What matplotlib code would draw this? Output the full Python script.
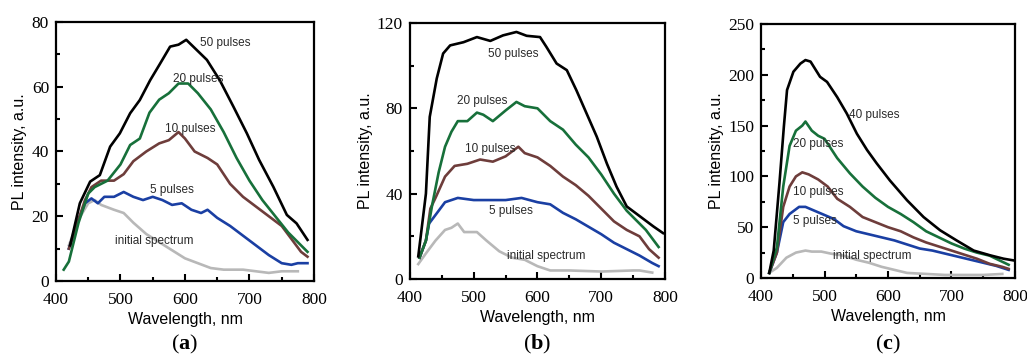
import numpy as np
import matplotlib.pyplot as plt
from matplotlib.ticker import MultipleLocator

plt.rcParams['mathtext.fontset'] = 'custom'
plt.rcParams['mathtext.rm'] = 'Liberation Serif'
plt.rcParams['mathtext.bf'] = 'Liberation Serif:bold'

# ---- panel (a) ----
a_wl_50 = [422, 437, 453, 468, 484, 499, 515, 530, 546, 561, 577, 590, 602, 618, 634, 654, 675, 696, 715, 737, 758, 773, 790]
a_50 = [11, 24, 30.7, 32.7, 41.5, 45.6, 51.8, 55.9, 62, 67, 72.4, 73, 74.5, 71.4, 68.3, 62, 53.9, 45.6, 37.4, 29.1, 20.4, 17.8, 12.7]
a_wl_20 = [412, 420, 435, 450, 460, 480, 500, 515, 530, 545, 560, 575, 590, 605, 620, 640, 660, 680, 700, 720, 740, 760, 775, 790]
a_20 = [3.5, 6, 18, 27, 29, 31, 36, 42, 44, 52, 56, 58, 61, 61, 58, 53, 46, 38, 31, 25, 20, 15, 12, 9]
a_wl_10 = [420, 430, 445, 455, 470, 490, 505, 520, 540, 560, 575, 590, 600, 615, 635, 650, 670, 690, 710, 730, 750, 765, 780, 790]
a_10 = [10, 16, 25, 29, 31, 31, 33, 37, 40, 42.5, 43.5, 46, 44, 40, 38, 36, 30, 26, 23, 20, 17, 13, 9, 7.5]
a_wl_5 = [420, 435, 445, 455, 465, 475, 490, 505, 520, 535, 550, 565, 580, 595, 610, 625, 635, 650, 670, 690, 710, 730, 750, 765, 775, 790]
a_5 = [10, 19, 24, 25.5, 24, 26, 26, 27.5, 26, 25, 26, 25, 23.5, 24, 22, 21, 22, 19.5, 17, 14, 11, 8, 5.5, 5, 5.5, 5.5]
a_wl_0 = [420, 435, 450, 460, 470, 490, 505, 520, 540, 560, 580, 600, 620, 640, 660, 690, 710, 730, 750, 775]
a_0 = [11, 19, 24, 25, 23.5, 22, 21, 18, 14.5, 12, 9.5, 7, 5.5, 4, 3.5, 3.5, 3, 2.5, 3, 3]

# ---- panel (b) ----
b_wl_50 = [413, 425, 431, 442, 452, 463, 484, 505, 526, 546, 567, 583, 604, 614, 630, 646, 661, 677, 693, 709, 724, 740, 761, 782, 797]
b_50 = [10.6, 40, 76, 94, 105.7, 109.5, 111, 113.4, 111.6, 114.2, 115.8, 114, 113.4, 108.8, 101, 97.9, 88.5, 77.6, 66.7, 54, 43.3, 34, 29.3, 24.6, 21.5]
b_wl_20 = [415, 425, 435, 445, 455, 465, 475, 490, 505, 515, 530, 550, 567, 580, 600, 620, 640, 660, 680, 700, 720, 740, 760, 770, 790]
b_20 = [10, 18, 35, 50, 62, 69, 74, 74, 78, 77, 74, 79, 83, 81, 80, 74, 70, 63, 57, 49, 40, 32, 26, 23, 15]
b_wl_10 = [415, 425, 432, 440, 455, 470, 490, 510, 530, 550, 570, 580, 600, 620, 640, 660, 680, 700, 720, 740, 760, 775, 790]
b_10 = [10, 18, 33, 38, 48, 53, 54, 56, 55, 57.5, 62, 59, 57, 53, 48, 44, 39, 33, 27, 23, 20, 14, 10]
b_wl_5 = [415, 425, 430, 440, 455, 475, 500, 525, 550, 575, 600, 620, 640, 660, 680, 700, 720, 740, 760, 780, 790]
b_5 = [10, 18, 26, 30, 36, 38, 37, 37, 37, 38, 36, 35, 31, 28, 24.5, 21, 17, 14, 11, 7.5, 6]
b_wl_0 = [413, 425, 440, 455, 465, 475, 485, 495, 505, 520, 540, 560, 580, 600, 620, 650, 700, 750, 760, 780]
b_0 = [7, 12, 18, 23, 24, 26, 22, 22, 22, 18, 13, 10, 9, 6, 4, 4, 3.5, 4, 4, 3]

# ---- panel (c) ----
c_wl_40 = [413, 420, 429, 436, 441, 451, 462, 470, 478, 493, 504, 520, 535, 551, 567, 582, 603, 630, 656, 682, 708, 735, 761, 782, 797]
c_40 = [5, 27, 93, 149, 185, 203, 211, 214.5, 213, 198, 193, 178, 162, 142, 126, 113, 96, 76.5, 60, 47, 37, 27, 22.3, 19, 17.4]
c_wl_20 = [413, 425, 435, 445, 455, 465, 470, 480, 490, 500, 520, 540, 560, 580, 600, 620, 640, 660, 680, 700, 720, 740, 760, 780, 790]
c_20 = [5, 30, 90, 130, 145, 150, 154, 145, 140, 137, 118, 103, 90, 79, 70, 63, 55, 46, 40, 34, 29, 25, 22, 16, 13]
c_wl_10 = [413, 425, 435, 445, 455, 465, 475, 490, 505, 520, 540, 560, 580, 600, 620, 640, 660, 680, 700, 720, 740, 760, 780, 790]
c_10 = [5, 25, 70, 90, 100, 104, 102, 97, 90, 78, 70, 60, 55, 50, 46, 40, 35, 31, 27, 23, 19, 14, 11, 9]
c_wl_5 = [413, 425, 435, 445, 460, 470, 485, 500, 515, 530, 550, 570, 590, 610, 630, 650, 670, 690, 710, 730, 750, 770, 790]
c_5 = [5, 25, 55, 63, 70, 70, 66, 62, 58, 51, 46, 43, 40, 37, 33, 29, 27, 24, 21, 18, 15, 12, 8]
c_wl_0 = [413, 425, 440, 455, 470, 480, 495, 510, 530, 550, 570, 590, 610, 630, 660, 690, 720, 750, 780]
c_0 = [5, 10, 20, 25, 27, 26, 26, 24, 22, 18, 15, 11, 8, 5, 4, 3, 3, 3, 4]

colors = {'black': '#000000', 'green': '#17703a', 'brown': '#6e3d3b', 'blue': '#1a3fa3', 'gray': '#b8b8b8'}

panels = [
    dict(rect=[0.0545, 0.2107, 0.2512, 0.7275], ymax=80, ymaj=20, ymin=10, label='a',
         series=[(a_wl_0, a_0, 'gray'), (a_wl_5, a_5, 'blue'), (a_wl_10, a_10, 'brown'),
                 (a_wl_20, a_20, 'green'), (a_wl_50, a_50, 'black')],
         texts=[(623, 73.5, '50 pulses'), (582, 62.5, '20 pulses'), (569, 47, '10 pulses'),
                (546, 28, '5 pulses'), (491, 12.3, 'initial spectrum')]),
    dict(rect=[0.3992, 0.2163, 0.2483, 0.7191], ymax=120, ymaj=40, ymin=20, label='b',
         series=[(b_wl_0, b_0, 'gray'), (b_wl_5, b_5, 'blue'), (b_wl_10, b_10, 'brown'),
                 (b_wl_20, b_20, 'green'), (b_wl_50, b_50, 'black')],
         texts=[(523, 105.5, '50 pulses'), (474, 83.5, '20 pulses'), (486, 60.8, '10 pulses'),
                (524, 31.8, '5 pulses'), (552, 11, 'initial spectrum')]),
    dict(rect=[0.741, 0.2191, 0.2473, 0.7135], ymax=250, ymaj=50, ymin=25, label='c',
         series=[(c_wl_0, c_0, 'gray'), (c_wl_5, c_5, 'blue'), (c_wl_10, c_10, 'brown'),
                 (c_wl_20, c_20, 'green'), (c_wl_40, c_40, 'black')],
         texts=[(539, 160, '40 pulses'), (450, 131.5, '20 pulses'), (450, 85, '10 pulses'),
                (451, 56, '5 pulses'), (513, 22, 'initial spectrum')]),
]

fig = plt.figure(figsize=(10.27, 3.56), dpi=100)

for p in panels:
    ax = fig.add_axes(p['rect'])
    for wl, val, c in p['series']:
        ax.plot(wl, val, color=colors[c], lw=1.9)
    for x, y, s in p['texts']:
        ax.text(x, y, s, fontsize=8.5, family='Liberation Sans', color='#2a2a2a', va='center')
    ax.set_xlim(400, 800)
    ax.set_ylim(0, p['ymax'])
    ax.xaxis.set_major_locator(MultipleLocator(100))
    ax.xaxis.set_minor_locator(MultipleLocator(50))
    ax.yaxis.set_major_locator(MultipleLocator(p['ymaj']))
    ax.yaxis.set_minor_locator(MultipleLocator(p['ymin']))
    ax.tick_params(which='both', direction='in', width=1.5, top=False, right=False)
    ax.tick_params(which='major', length=5)
    ax.tick_params(which='minor', length=3)
    ax.tick_params(axis='x', pad=8)
    ax.tick_params(axis='y', pad=5)
    for lab in ax.get_xticklabels() + ax.get_yticklabels():
        lab.set_family('Liberation Serif')
        lab.set_fontsize(12.5)
    for sp in ax.spines.values():
        sp.set_linewidth(1.6)
    ax.set_xlabel('Wavelength, nm', family='Liberation Sans', fontsize=11.5, labelpad=3)
    ax.set_ylabel('PL intensity, a.u.', family='Liberation Sans', fontsize=11.5, labelpad=3)
    r = p['rect']
    fig.text(r[0] + r[2] / 2, 0.0, r'$\mathrm{(}\mathbf{' + p['label'] + r'}\mathrm{)}$',
             ha='center', va='bottom', fontsize=16)

fig.savefig('out.png', dpi=100)
